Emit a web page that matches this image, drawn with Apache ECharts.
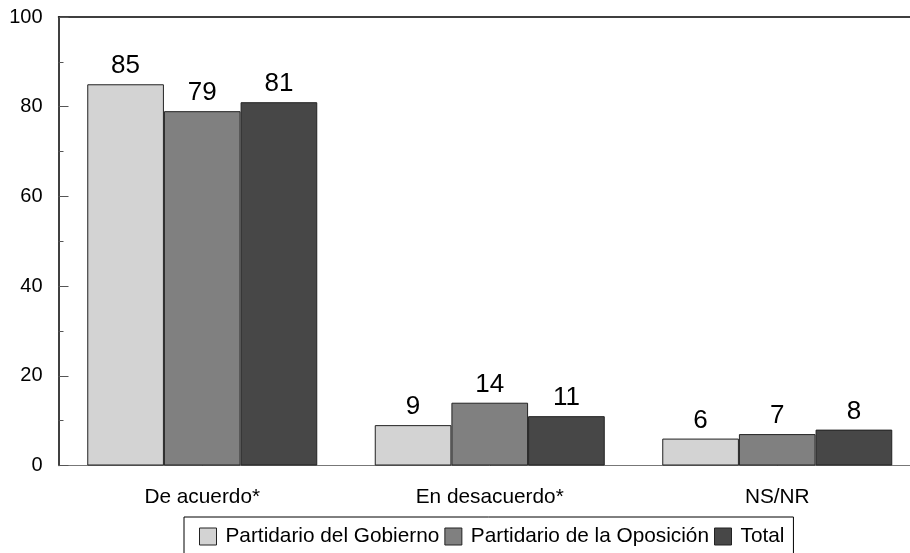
<!DOCTYPE html>
<html>
<head>
<meta charset="utf-8">
<script src="https://cdn.jsdelivr.net/npm/echarts@6/dist/echarts.min.js"></script>
<style>html,body{margin:0;padding:0;background:#fff;overflow:hidden;width:910px;height:553px}#c{width:921px;height:553px}</style>
</head>
<body>
<div id="c"></div>
<script>
const categories = ['De acuerdo*', 'En desacuerdo*', 'NS/NR'];
const seriesNames = ['Partidario del Gobierno', 'Partidario de la Oposición', 'Total'];
const gobierno = [85, 9, 6];
const oposicion = [79, 14, 7];
const total = [81, 11, 8];
const yTicks = [0, 20, 40, 60, 80, 100];

const colors = ['#d3d3d3', '#808080', '#474747'];
const values = [gobierno, oposicion, total];
const font = 'Liberation Sans, Arial, sans-serif';

const chart = echarts.init(document.getElementById('c'));
chart.setOption({
  animation: false,
  grid: { left: 58.5, right: 0, top: 17, bottom: 87.5, containLabel: false },
  legend: {
    data: seriesNames,
    left: 184, top: 517,
    orient: 'horizontal',
    itemWidth: 17, itemHeight: 17, itemGap: 5,
    icon: 'rect',
    padding: [9, 9, 20, 15],
    borderColor: '#000', borderWidth: 1,
    textStyle: { fontFamily: font, fontSize: 20.8, color: '#000', padding: [0, 0, 0, 4] },
    itemStyle: { borderColor: '#222', borderWidth: 1 }
  },
  xAxis: [{
    type: 'category',
    data: categories,
    axisLine: { lineStyle: { color: '#777', width: 1 } },
    axisTick: { show: true, inside: true, length: 10, alignWithLabel: true, lineStyle: { color: '#555' } },
    axisLabel: { fontFamily: font, fontSize: 20.8, color: '#000', margin: 21 },
    splitLine: { show: false }
  }, {
    type: 'category',
    data: categories,
    position: 'top',
    axisLine: { show: true, lineStyle: { color: '#000', width: 1.5 } },
    axisTick: { show: false },
    axisLabel: { show: false }
  }],
  yAxis: {
    type: 'value', min: yTicks[0], max: yTicks[yTicks.length - 1], interval: 20,
    axisLine: { show: true, lineStyle: { color: '#000', width: 1.5 } },
    axisTick: { show: true, inside: true, length: 10, lineStyle: { color: '#555' } },
    minorTick: { show: true, splitNumber: 2, length: 5, lineStyle: { color: '#555' } },
    axisLabel: { fontFamily: font, fontSize: 20, color: '#000', margin: 16 },
    splitLine: { show: false }
  },
  series: seriesNames.map((n, i) => ({
    name: n, type: 'bar', data: values[i], xAxisIndex: 0,
    barGap: '0%', barCategoryGap: '20%',
    itemStyle: { color: colors[i], borderColor: '#222', borderWidth: 1 },
    label: { show: true, position: 'top', distance: 5, fontFamily: font, fontSize: 26, color: '#000' }
  }))
});
</script>
</body>
</html>
